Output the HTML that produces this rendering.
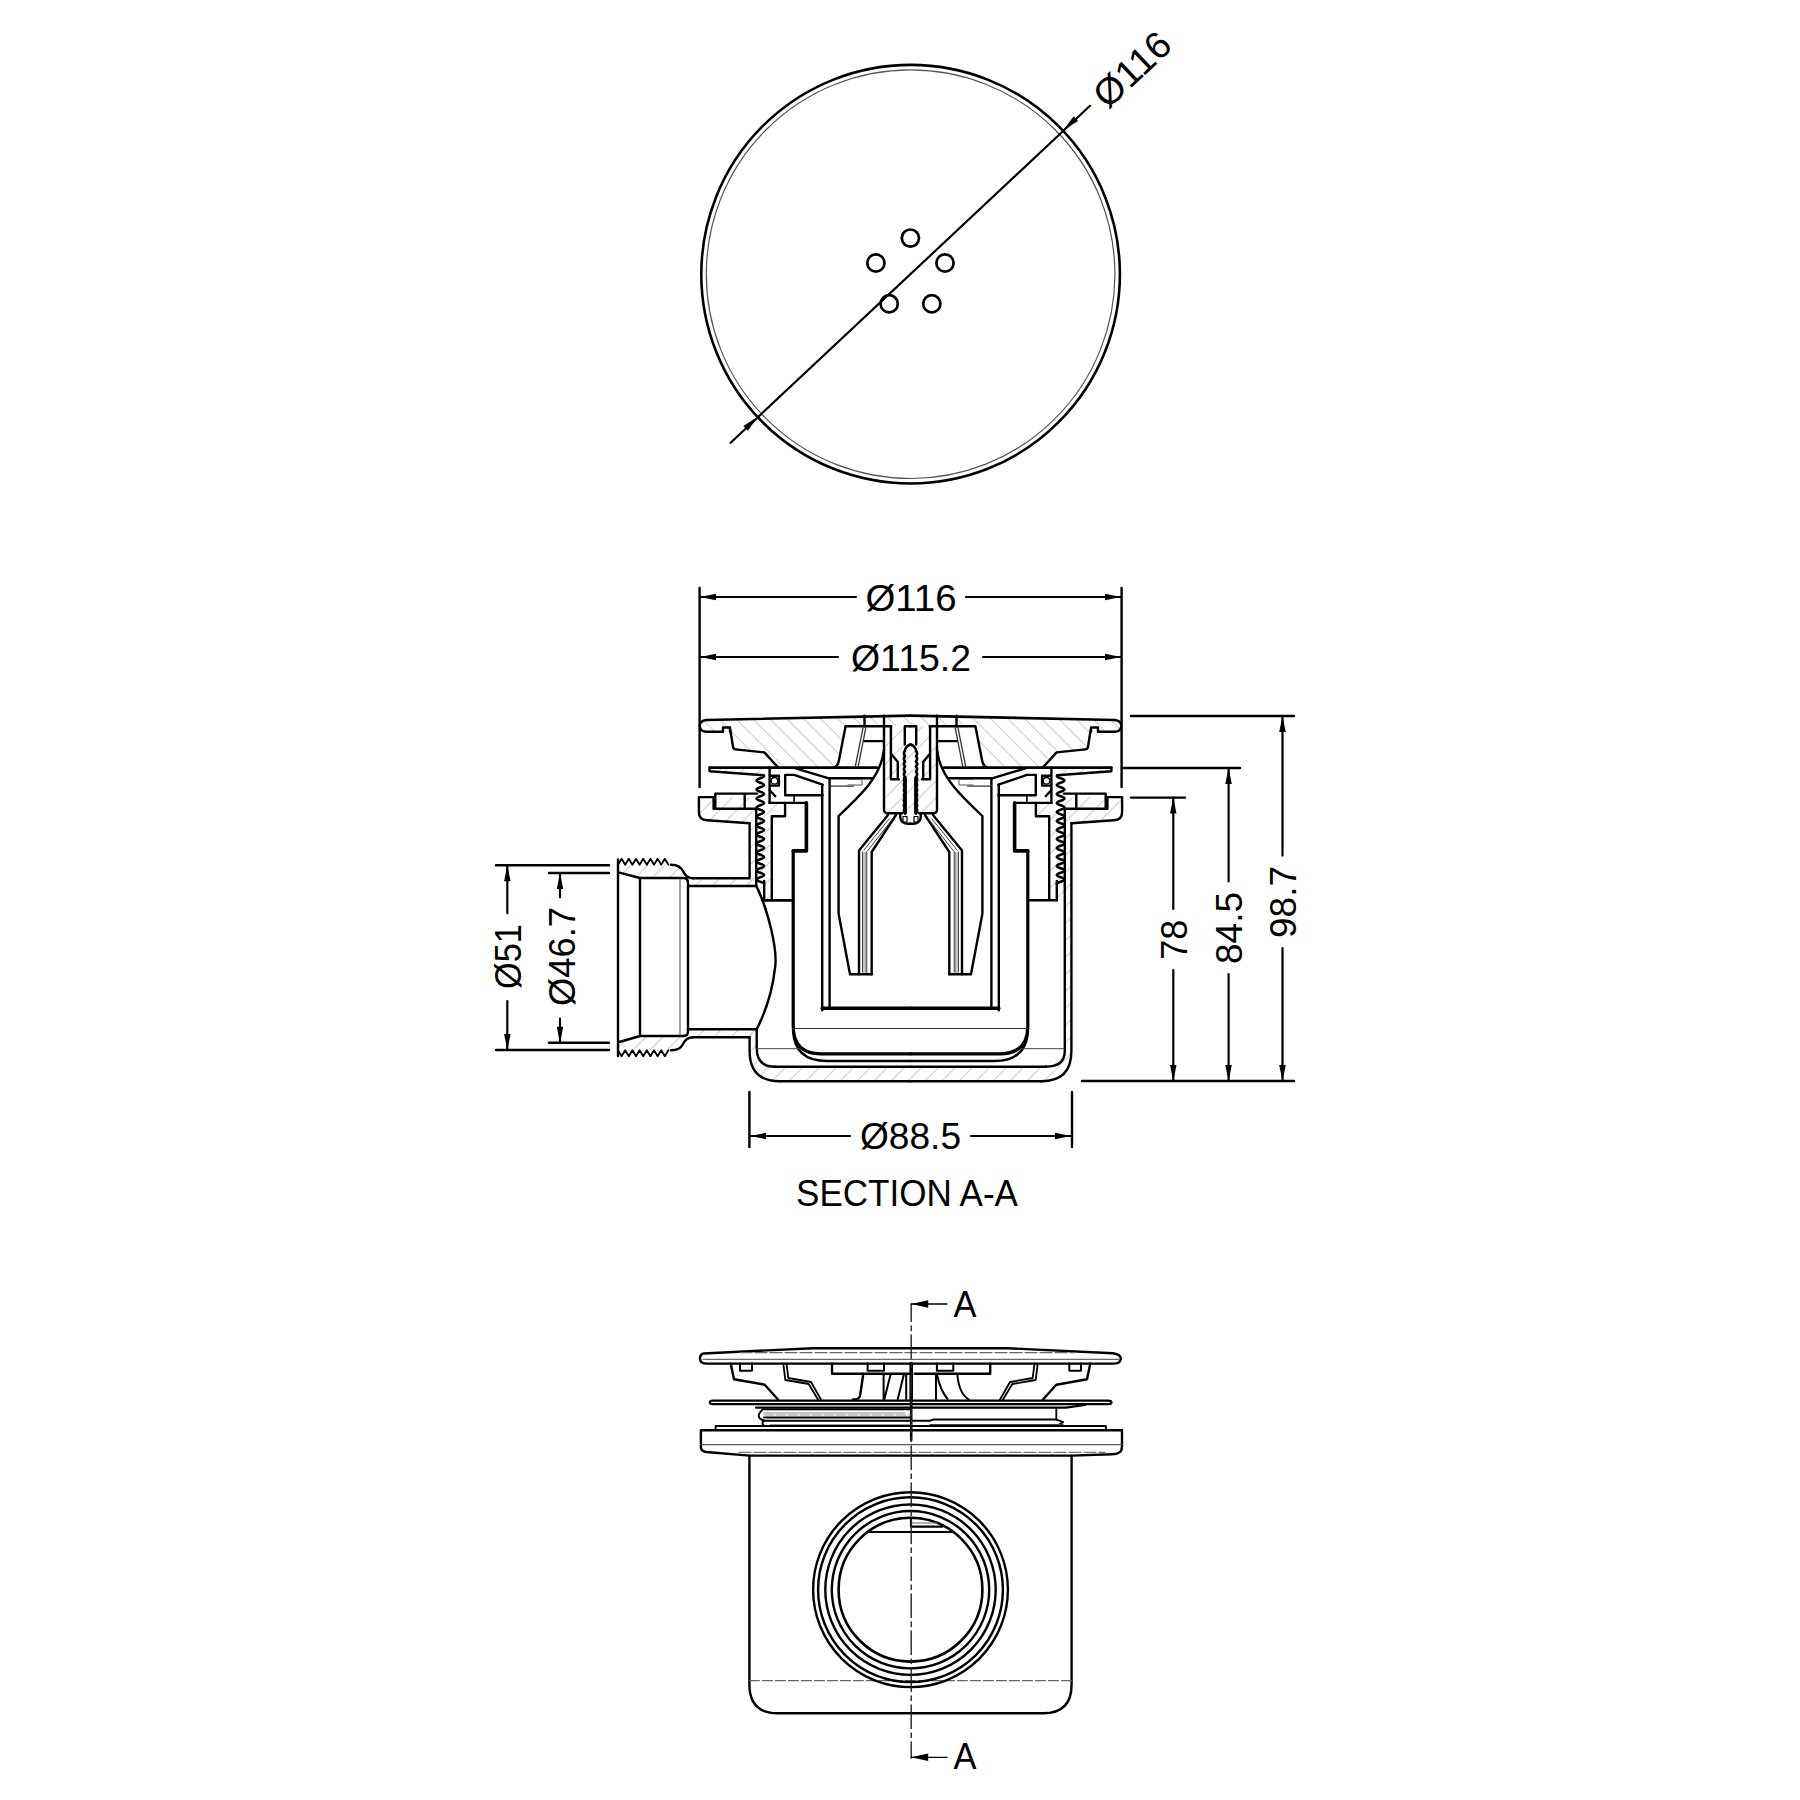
<!DOCTYPE html>
<html><head><meta charset="utf-8"><style>
html,body{margin:0;padding:0;background:#fff;overflow:hidden;width:1800px;height:1800px;}
svg{display:block;}
</style></head><body>
<svg width="1800" height="1800" viewBox="0 0 1800 1800" stroke-linecap="round" stroke-linejoin="round">
<rect width="1800" height="1800" fill="#fff"/>
<defs>
<pattern id="hF" patternUnits="userSpaceOnUse" width="17" height="17"><path d="M0,17 L17,0 M-3,3 L3,-3 M14,20 L20,14" stroke="#cfcfcf" stroke-width="1.1"/></pattern>
<pattern id="hB" patternUnits="userSpaceOnUse" width="17" height="17"><path d="M0,0 L17,17 M-3,14 L3,20 M14,-3 L20,3" stroke="#cfcfcf" stroke-width="1.1"/></pattern>
</defs>
<path d="M706.7,720 L864.5,716.3 L864.5,726.3 L845.6,726.3 L839,760 Q838,766 834.5,767.4 L778,767.4 L764.4,752.4 L737.8,749.6 Q733,749.5 732.2,746.7 L729.5,728.4 L723,731.8 L706.5,731.8 C702.5,731.8 700,730 699.8,726 C699.6,723.5 701,720.3 706.7,720 Z" fill="url(#hB)" stroke="none"/>
<path d="M1114.3,720 L956.5,716.3 L956.5,726.3 L975.4,726.3 L982.0,760 Q983.0,766 986.5,767.4 L1043.0,767.4 L1056.6,752.4 L1083.2,749.6 Q1088.0,749.5 1088.8,746.7 L1091.5,728.4 L1098.0,731.8 L1114.5,731.8 C1118.5,731.8 1121.0,730 1121.2,726 C1121.4,723.5 1120.0,720.3 1114.3,720 Z" fill="url(#hB)" stroke="none"/>
<path d="M864.5,716.3 L956.5,716.3 L956.5,726.3 L864.5,726.3 Z" fill="url(#hB)" stroke="none"/>
<path d="M890.9,726.3 L904.8,726.3 L904.8,813.3 L888,813.3 Q884,813.3 884,809.5 L884,741.1 L890.9,741.1 Z" fill="url(#hF)" stroke="none"/>
<path d="M930.1,726.3 L916.2,726.3 L916.2,813.3 L933.0,813.3 Q937.0,813.3 937.0,809.5 L937.0,741.1 L930.1,741.1 Z" fill="url(#hF)" stroke="none"/>
<path d="M905,746 L917,746 L917,813 L905,813 Z" fill="url(#hF)" stroke="none"/>
<path d="M699.4,797.3 L757,797.3 L757,808 L772.3,808 L772.3,900 L757,900 L757,822.6 L707.3,819.4 Q699.4,818 699.4,812 Z" fill="url(#hF)" stroke="none"/>
<path d="M1121.6,797.3 L1064.0,797.3 L1064.0,808 L1048.7,808 L1048.7,900 L1064.0,900 L1064.0,822.6 L1113.7,819.4 Q1121.6,818 1121.6,812 Z" fill="url(#hF)" stroke="none"/>
<path d="M769.6,802.9 L785.1,802.9 L785.1,816.2 L771.8,816.2 Z" fill="url(#hF)" stroke="none"/>
<path d="M1051.4,802.9 L1035.9,802.9 L1035.9,816.2 L1049.2,816.2 Z" fill="url(#hF)" stroke="none"/>
<path d="M709.6,767.6 L769.6,767.6 L769.6,775.3 L763.8,775.3 L709.6,771.3 Z" fill="url(#hF)" stroke="none"/>
<path d="M1111.4,767.6 L1051.4,767.6 L1051.4,775.3 L1057.2,775.3 L1111.4,771.3 Z" fill="url(#hF)" stroke="none"/>
<path d="M749.6,822.6 L757,822.6 L757,886 L749.6,886 Z" fill="url(#hF)" stroke="none"/>
<path d="M1064.8,822.6 L1071.4,822.6 L1071.4,1051 L1064.8,1051 Z" fill="url(#hF)" stroke="none"/>
<path d="M749.6,1037.2 L749.6,1051 Q749.6,1081.2 779.6,1081.2 L1041.4,1081.2 Q1071.4,1081.2 1071.4,1051 L1064.8,1051 Q1064.8,1066.6 1046,1066.6 L775,1066.8 Q756.7,1066.8 756.7,1048 L756.7,1029.2 Z" fill="url(#hF)" stroke="none"/>
<path d="M618,864.7 L671,864.7 Q680,864.7 683,871 Q686,878.3 693,878.3 L756.4,878.3 L756.4,886 L688,886 L688,883 Q688,878 683.5,878 L640,878 L619.3,872.7 Z" fill="url(#hF)" stroke="none"/>
<path d="M618,1050.3 L671,1050.3 Q680,1050.3 683,1044.0 Q686,1036.7 693,1036.7 L756.4,1036.7 L756.4,1029.0 L688,1029.0 L688,1032.0 Q688,1037.0 683.5,1037.0 L640,1037.0 L619.3,1042.3 Z" fill="url(#hF)" stroke="none"/>
<circle cx="910.6" cy="274.2" r="209.3" stroke="#000" stroke-width="2.6" fill="none"/>
<circle cx="910.6" cy="274.2" r="204.3" stroke="#555" stroke-width="1.2" fill="none"/>
<circle cx="910.4" cy="238.1" r="8.6" stroke="#000" stroke-width="2.7" fill="none"/>
<circle cx="875.9" cy="263.0" r="8.6" stroke="#000" stroke-width="2.7" fill="none"/>
<circle cx="945.0" cy="263.0" r="8.6" stroke="#000" stroke-width="2.7" fill="none"/>
<circle cx="889.2" cy="303.8" r="8.6" stroke="#000" stroke-width="2.7" fill="none"/>
<circle cx="931.8" cy="303.8" r="8.6" stroke="#000" stroke-width="2.7" fill="none"/>
<line x1="730.6" y1="442.8" x2="1090" y2="105.8" stroke="#000" stroke-width="2.2" />
<path d="M757.8,416.7 L747.8,430.8 L743.3,426.1 Z" fill="#000"/>
<path d="M1063.3,130.0 L1073.7,116.2 L1078.1,121.0 Z" fill="#000"/>
<text x="1140.9" y="78.9" font-size="37.5" text-anchor="middle" transform="rotate(-43.15 1140.9 78.9)" textLength="91" lengthAdjust="spacingAndGlyphs" font-family="Liberation Sans, sans-serif" fill="#000" >Ø116</text>
<line x1="699.6" y1="588" x2="699.6" y2="787" stroke="#000" stroke-width="2.4" />
<line x1="1121.6" y1="588" x2="1121.6" y2="787" stroke="#000" stroke-width="2.4" />
<line x1="700" y1="597" x2="856" y2="597" stroke="#000" stroke-width="2.2" />
<line x1="966" y1="597" x2="1121" y2="597" stroke="#000" stroke-width="2.2" />
<path d="M700.0,597.0 L716.0,593.8 L716.0,600.2 Z" fill="#000"/>
<path d="M1121.0,597.0 L1105.0,600.2 L1105.0,593.8 Z" fill="#000"/>
<text x="911" y="611" font-size="37.5" text-anchor="middle" textLength="91" lengthAdjust="spacingAndGlyphs" font-family="Liberation Sans, sans-serif" fill="#000" >Ø116</text>
<line x1="700" y1="657" x2="838" y2="657" stroke="#000" stroke-width="2.2" />
<line x1="983" y1="657" x2="1121" y2="657" stroke="#000" stroke-width="2.2" />
<path d="M700.0,657.0 L716.0,653.8 L716.0,660.2 Z" fill="#000"/>
<path d="M1121.0,657.0 L1105.0,660.2 L1105.0,653.8 Z" fill="#000"/>
<text x="911" y="671" font-size="37.5" text-anchor="middle" textLength="120" lengthAdjust="spacingAndGlyphs" font-family="Liberation Sans, sans-serif" fill="#000" >Ø115.2</text>
<line x1="1131" y1="716" x2="1294" y2="716" stroke="#000" stroke-width="2.4" />
<line x1="1122" y1="768" x2="1240" y2="768" stroke="#000" stroke-width="2.4" />
<line x1="1131" y1="797.6" x2="1185" y2="797.6" stroke="#000" stroke-width="2.4" />
<line x1="1082" y1="1081" x2="1294" y2="1081" stroke="#000" stroke-width="2.4" />
<line x1="1173.3" y1="797.6" x2="1173.3" y2="909" stroke="#000" stroke-width="2.2" />
<line x1="1173.3" y1="970" x2="1173.3" y2="1081" stroke="#000" stroke-width="2.2" />
<path d="M1173.3,797.6 L1176.5,813.6 L1170.0,813.6 Z" fill="#000"/>
<path d="M1173.3,1081.0 L1170.0,1065.0 L1176.5,1065.0 Z" fill="#000"/>
<text x="1187" y="939.8" font-size="37.5" text-anchor="middle" transform="rotate(-90 1187 939.8)" textLength="40" lengthAdjust="spacingAndGlyphs" font-family="Liberation Sans, sans-serif" fill="#000" >78</text>
<line x1="1228.6" y1="768" x2="1228.6" y2="881.5" stroke="#000" stroke-width="2.2" />
<line x1="1228.6" y1="974" x2="1228.6" y2="1081" stroke="#000" stroke-width="2.2" />
<path d="M1228.6,768.0 L1231.8,784.0 L1225.3,784.0 Z" fill="#000"/>
<path d="M1228.6,1081.0 L1225.3,1065.0 L1231.8,1065.0 Z" fill="#000"/>
<text x="1242.4" y="928" font-size="37.5" text-anchor="middle" transform="rotate(-90 1242.4 928)" textLength="72" lengthAdjust="spacingAndGlyphs" font-family="Liberation Sans, sans-serif" fill="#000" >84.5</text>
<line x1="1282.5" y1="716" x2="1282.5" y2="855.6" stroke="#000" stroke-width="2.2" />
<line x1="1282.5" y1="948" x2="1282.5" y2="1081" stroke="#000" stroke-width="2.2" />
<path d="M1282.5,716.0 L1285.8,732.0 L1279.2,732.0 Z" fill="#000"/>
<path d="M1282.5,1081.0 L1279.2,1065.0 L1285.8,1065.0 Z" fill="#000"/>
<text x="1296.2" y="902" font-size="37.5" text-anchor="middle" transform="rotate(-90 1296.2 902)" textLength="72" lengthAdjust="spacingAndGlyphs" font-family="Liberation Sans, sans-serif" fill="#000" >98.7</text>
<line x1="496" y1="865.3" x2="609" y2="865.3" stroke="#000" stroke-width="2.4" />
<line x1="496" y1="1050" x2="609" y2="1050" stroke="#000" stroke-width="2.4" />
<line x1="549" y1="873" x2="609" y2="873" stroke="#000" stroke-width="2.4" />
<line x1="549" y1="1042.7" x2="609" y2="1042.7" stroke="#000" stroke-width="2.4" />
<line x1="507.3" y1="865.3" x2="507.3" y2="913.3" stroke="#000" stroke-width="2.2" />
<line x1="507.3" y1="1001" x2="507.3" y2="1050" stroke="#000" stroke-width="2.2" />
<path d="M507.3,865.3 L510.6,881.3 L504.1,881.3 Z" fill="#000"/>
<path d="M507.3,1050.0 L504.1,1034.0 L510.6,1034.0 Z" fill="#000"/>
<text x="521.3" y="956.5" font-size="37.5" text-anchor="middle" transform="rotate(-90 521.3 956.5)" textLength="65" lengthAdjust="spacingAndGlyphs" font-family="Liberation Sans, sans-serif" fill="#000" >Ø51</text>
<line x1="560" y1="873" x2="560" y2="897.3" stroke="#000" stroke-width="2.2" />
<line x1="560" y1="1018.7" x2="560" y2="1042.7" stroke="#000" stroke-width="2.2" />
<path d="M560.0,873.0 L563.2,889.0 L556.8,889.0 Z" fill="#000"/>
<path d="M560.0,1042.7 L556.8,1026.7 L563.2,1026.7 Z" fill="#000"/>
<text x="574.7" y="956.5" font-size="37.5" text-anchor="middle" transform="rotate(-90 574.7 956.5)" textLength="99" lengthAdjust="spacingAndGlyphs" font-family="Liberation Sans, sans-serif" fill="#000" >Ø46.7</text>
<line x1="749.4" y1="1092" x2="749.4" y2="1147" stroke="#000" stroke-width="2.4" />
<line x1="1072" y1="1092" x2="1072" y2="1147" stroke="#000" stroke-width="2.4" />
<line x1="750" y1="1136" x2="850" y2="1136" stroke="#000" stroke-width="2.2" />
<line x1="971" y1="1136" x2="1071" y2="1136" stroke="#000" stroke-width="2.2" />
<path d="M750.0,1136.0 L766.0,1132.8 L766.0,1139.2 Z" fill="#000"/>
<path d="M1071.0,1136.0 L1055.0,1139.2 L1055.0,1132.8 Z" fill="#000"/>
<text x="910.5" y="1149" font-size="37.5" text-anchor="middle" textLength="101" lengthAdjust="spacingAndGlyphs" font-family="Liberation Sans, sans-serif" fill="#000" >Ø88.5</text>
<text x="907" y="1206" font-size="37.5" text-anchor="middle" textLength="222" lengthAdjust="spacingAndGlyphs" font-family="Liberation Sans, sans-serif" fill="#000" >SECTION A-A</text>
<g id="symL">
<path d="M706.7,720 L910.5,715.6" stroke="#000" stroke-width="2.6" fill="none" />
<path d="M706.7,720 C701,720.3 699.6,723.5 699.8,726 C700,730 702.5,731.8 706.5,731.8 L723,731.8 L723,727.5 L730,727.5 L730,731.8 M730,728 L733,746.7 Q733,749.5 737.8,749.6 L764.4,752.4 L778,767.4" stroke="#000" stroke-width="2.4" fill="none" />
<line x1="709.6" y1="767.6" x2="877" y2="767.6" stroke="#000" stroke-width="2.6" />
<path d="M834.5,767.4 Q838,766 839,760 L845.6,726.3 L891.3,726.3" stroke="#000" stroke-width="2.4" fill="none" />
<path d="M855.3,766.5 L863,727.8 M858.2,766.5 L865.8,727.8" stroke="#333" stroke-width="1.3" fill="none" />
<line x1="864.5" y1="715.6" x2="864.5" y2="726.3" stroke="#000" stroke-width="2.4" />
<line x1="864.5" y1="741.1" x2="884" y2="741.1" stroke="#000" stroke-width="2.4" />
<path d="M884,715.6 L884,809.5 Q884,813.3 888,813.3 L902,813.3" stroke="#000" stroke-width="2.4" fill="none" />
<path d="M890.9,726.3 L890.9,779.3 L898.9,779.3 M890.9,753.6 L897.8,762 L897.8,779.3" stroke="#000" stroke-width="2.4" fill="none" />
<path d="M904.8,744.6 L904.8,726.3 L910.5,726.3" stroke="#000" stroke-width="2.4" fill="none" />
<path d="M905,813.3 Q902.8,810.7 905,808.1 Q902.8,805.5 905,802.9 Q902.8,800.3 905,797.7 Q902.8,795.1 905,792.5 Q902.8,789.9 905,787.3 Q902.8,784.7 905,782.1 Q902.8,779.5 905,776.9 Q902.8,774.3 905,771.7 Q902.8,769.1 905,766.5 Q902.8,763.9 905,761.3 Q902.8,758.7 905,756.1 Q902.8,753.5 905,750.9 Q904,750 907,746.5 Q909,744.6 910.5,744.6" stroke="#000" stroke-width="2.6" fill="none" />
<path d="M905.2,778 L905.2,813" stroke="#000" stroke-width="3.4" fill="none" />
<path d="M900.3,813.3 L900.3,818 Q901.5,823.8 908,823.8 L910.5,823.8" stroke="#000" stroke-width="2.4" fill="none" />
<path d="M903,816.5 L907,816.5 L907,822 L903,822 Z" stroke="#000" stroke-width="1.2" fill="none" />
<path d="M884,750 C881,776 862,794 838.6,816 L838.6,913.7 L850,974.3 L871.7,974.3" stroke="#000" stroke-width="2.4" fill="none" />
<path d="M888,815 L859,850.5 L859,974.3 M896,815 L871.7,852 L871.7,974.3" stroke="#000" stroke-width="2.4" fill="none" />
<path d="M863,852 L868,852 L868,973 L863,973 Z" fill="#c8c8c8"/>
<path d="M862.5,852 L862.5,972 M866.2,852 L866.2,972 M889,819 L864,850 M892.5,819 L867.5,851" stroke="#444" stroke-width="1.0" fill="none" />
<path d="M795.6,768.4 L828.9,778.3 L872,778.3" stroke="#000" stroke-width="2.4" fill="none" />
<path d="M829.6,778.3 L829.6,1008" stroke="#000" stroke-width="2.4" fill="none" />
<path d="M822.6,784.7 L794.1,774.9 L785.2,774.9 L785.2,795.3 L822.6,795.3" stroke="#000" stroke-width="2.4" fill="none" />
<path d="M822.2,784.7 L822.2,1010.2" stroke="#000" stroke-width="2.4" fill="none" />
<line x1="822.2" y1="1008.3" x2="910.5" y2="1008.3" stroke="#000" stroke-width="3.4" />
<path d="M829.6,786.2 L853.3,786.2" stroke="#333" stroke-width="1.2" fill="none" />
<path d="M848,779.5 L862,779.5 L862,785 L848,785" stroke="#555" stroke-width="1.0" fill="none" />
<path d="M770,775.8 L778.9,775.8 L778.9,785.6 L770,785.6" stroke="#000" stroke-width="2.4" fill="none" />
<circle cx="774.5" cy="780.8" r="3.3" stroke="#000" stroke-width="1.3" fill="none"/>
<path d="M769.6,767.6 L769.6,802.9" stroke="#000" stroke-width="2.4" fill="none" />
<path d="M769.6,790 L775.3,796.2" stroke="#000" stroke-width="2.4" fill="none" />
<path d="M794.1,796 L794.1,802.9" stroke="#000" stroke-width="1.6" fill="none" />
<path d="M769.6,802.9 L806.4,802.9" stroke="#000" stroke-width="2.4" fill="none" />
<path d="M806.4,802.9 L806.4,850.9 L793.2,850.9" stroke="#000" stroke-width="3.6" fill="none" />
<path d="M785.1,802.9 L785.1,816.2 L771.8,816.2 L771.8,900.2 L764.2,900.2 M771.8,900.2 L793.2,900.2" stroke="#000" stroke-width="2.4" fill="none" />
<path d="M709.6,767.6 L709.6,771.3 L763.8,775.3" stroke="#000" stroke-width="2.4" fill="none" />
<path d="M764.2,776 C764.2,778.0 756.5,778.5 756.5,780.5 C756.5,782.5 764.2,783.0 764.2,785.0 C764.2,787.0 756.5,787.5 756.5,789.5 C756.5,791.5 764.2,792.0 764.2,794.0 C764.2,796.0 756.5,796.5 756.5,798.5 C756.5,800.5 764.2,801.0 764.2,803.0 C764.2,805.0 756.5,805.5 756.5,807.5 C756.5,809.5 764.2,810.0 764.2,812.0 C764.2,814.0 756.5,814.5 756.5,816.5 C756.5,818.5 764.2,819.0 764.2,821.0 C764.2,823.0 756.5,823.5 756.5,825.5 C756.5,827.5 764.2,828.0 764.2,830.0 C764.2,832.0 756.5,832.5 756.5,834.5 C756.5,836.5 764.2,837.0 764.2,839.0 C764.2,841.0 756.5,841.5 756.5,843.5 C756.5,845.5 764.2,846.0 764.2,848.0 C764.2,850.0 756.5,850.5 756.5,852.5 C756.5,854.5 764.2,855.0 764.2,857.0 C764.2,859.0 756.5,859.5 756.5,861.5 C756.5,863.5 764.2,864.0 764.2,866.0 C764.2,868.0 756.5,868.5 756.5,870.5 C756.5,872.5 764.2,873.0 764.2,875.0 C764.2,877.0 756.5,877.5 756.5,879.5 C756.5,881.5 764.2,882.0 764.2,884.0" stroke="#000" stroke-width="2.5" fill="none" />
<path d="M764.2,881 L764.2,900.2" stroke="#000" stroke-width="2.4" fill="none" />
<path d="M756.2,808.7 L756.2,886" stroke="#000" stroke-width="2.4" fill="none" />
<path d="M713.6,797.1 L698.9,797.1 L698.9,812 Q698.9,820.2 707,820.2 L749.6,823.3" stroke="#000" stroke-width="2.4" fill="none" />
<path d="M713.6,797.1 L713.6,808.7 L756.2,808.7" stroke="#000" stroke-width="2.4" fill="none" />
<path d="M715.3,808.7 L715.3,793.6 L757,793.6 M744.7,793.6 L744.7,808.7" stroke="#000" stroke-width="2.4" fill="none" />
<path d="M793.2,850.9 L793.2,1026 Q793.2,1053.8 821,1053.8 L910.5,1053.8" stroke="#000" stroke-width="3.2" fill="none" />
<path d="M793.2,1030 Q794,1061 827,1061 L910.5,1061" stroke="#000" stroke-width="2.4" fill="none" />
<path d="M793.2,1028.5 L910.5,1028.5" stroke="#333" stroke-width="1.0" fill="none" />
<path d="M779.6,1081.2 L910.5,1081.2" stroke="#000" stroke-width="2.4" fill="none" />
<path d="M775,1066.8 L910.5,1066.8" stroke="#000" stroke-width="2.4" fill="none" />
</g>
<use href="#symL" transform="translate(1821,0) scale(-1,1)"/>
<path d="M749.6,823.3 L749.6,878.3 L693,878.3" stroke="#000" stroke-width="2.4" fill="none" />
<path d="M749.6,1037.2 L749.6,1051 Q749.6,1081.2 779.6,1081.2" stroke="#000" stroke-width="2.4" fill="none" />
<path d="M756.2,886 L688,886" stroke="#000" stroke-width="2.4" fill="none" />
<path d="M756.7,1029.2 L756.7,1048 Q756.7,1066.8 775,1066.8" stroke="#000" stroke-width="2.4" fill="none" />
<path d="M688,1029.2 L756.7,1029.2" stroke="#000" stroke-width="2.4" fill="none" />
<path d="M693,1037.2 L749.6,1037.2" stroke="#000" stroke-width="2.4" fill="none" />
<path d="M756.4,886 C768,910 778,950 775,968 C772,995 764,1015 756.7,1029.2" stroke="#000" stroke-width="2.4" fill="none" />
<path d="M762.2,900.2 L793.2,900.2" stroke="#000" stroke-width="2.4" fill="none" />
<path d="M756.4,886 L766.4,910" stroke="#000" stroke-width="1.4" fill="none" />
<line x1="757" y1="1048.7" x2="800" y2="1048.7" stroke="#444" stroke-width="1.0" />
<path d="M693,878.3 Q686,878.3 683,871 Q680,864.7 671,864.7" stroke="#000" stroke-width="2.4" fill="none" />
<path d="M693,1037.2 Q686,1037.2 683,1044 Q680,1050.3 671,1050.3" stroke="#000" stroke-width="2.4" fill="none" />
<path d="M618,859.5 L618,1056" stroke="#000" stroke-width="2.4" fill="none" />
<path d="M618,864.7 L621.6,858.8 L625.2,864.7 L628.8,858.8 L632.4,864.7 L636.0,858.8 L639.6,864.7 L643.2,858.8 L646.8,864.7 L650.4,858.8 L654.0,864.7 L657.6,858.8 L661.2,864.7 L664.8,858.8 L668.4,864.7" stroke="#000" stroke-width="1.8" fill="none" />
<path d="M618,1050.3 L621.6,1056.3 L625.2,1050.3 L628.8,1056.3 L632.4,1050.3 L636.0,1056.3 L639.6,1050.3 L643.2,1056.3 L646.8,1050.3 L650.4,1056.3 L654.0,1050.3 L657.6,1056.3 L661.2,1050.3 L664.8,1056.3 L668.4,1050.3" stroke="#000" stroke-width="1.8" fill="none" />
<path d="M619.3,872.7 L640,878 L683.5,878 Q688,878 688,883 L688,1031.5 Q688,1036 683.5,1036 L640,1036 L619.3,1042" stroke="#000" stroke-width="2.4" fill="none" />
<path d="M640,878 L640,1036" stroke="#000" stroke-width="2.4" fill="none" />
<path d="M680,878 L680,1036" stroke="#444" stroke-width="1.0" fill="none" />
<path d="M1071.4,823.3 L1071.4,1051 Q1071.4,1081.2 1041.4,1081.2" stroke="#000" stroke-width="2.4" fill="none" />
<path d="M1064.8,886 L1064.8,1051 Q1064.8,1066.6 1046,1066.6" stroke="#000" stroke-width="2.4" fill="none" />
<line x1="1021" y1="1048.7" x2="1064" y2="1048.7" stroke="#444" stroke-width="1.0" />
<path d="M703.5,1353.5 L813,1348.2 L1007.5,1348.2 L1113,1353.2 Q1121,1354.5 1120.8,1358.8 Q1120.6,1363.6 1114,1363.6 L707,1363.6 Q700,1363.6 700,1358.8 Q700,1354 703.5,1353.5 Z" stroke="#000" stroke-width="2.4" fill="none" />
<line x1="740" y1="1352.6" x2="1075" y2="1352.6" stroke="#666" stroke-width="1.3" stroke-dasharray="12,3"/>
<line x1="703" y1="1359.3" x2="1119" y2="1359.3" stroke="#444" stroke-width="1.0" />
<path d="M740,1363.6 L740,1370.8 L752,1370.8 L752,1363.6" stroke="#000" stroke-width="2.0" fill="none" />
<path d="M867.6,1363.6 L867.6,1370.8 L884,1370.8 L884,1363.6" stroke="#000" stroke-width="2.0" fill="none" />
<path d="M936.9,1363.6 L936.9,1370.8 L953.3,1370.8 L953.3,1363.6" stroke="#000" stroke-width="2.0" fill="none" />
<path d="M1069.3,1363.6 L1069.3,1370.8 L1081,1370.8 L1081,1363.6" stroke="#000" stroke-width="2.0" fill="none" />
<path d="M832,1363.6 L832,1373.8 L909.3,1373.8 M914.7,1373.8 L990.2,1373.8 L990.2,1363.6" stroke="#000" stroke-width="2.4" fill="none" />
<path d="M730.7,1363.6 L734,1379.3 L764.7,1384.7 L778,1399.5" stroke="#000" stroke-width="2.4" fill="none" />
<path d="M1090.3,1363.6 L1087,1379.3 L1056.3,1384.7 L1043,1399.5" stroke="#000" stroke-width="2.4" fill="none" />
<path d="M783.3,1363.6 L785.3,1380 L808.7,1384 L818,1399.5 M786.5,1363.6 L788.3,1378 L811,1382 L821,1399.5" stroke="#000" stroke-width="1.8" fill="none" />
<path d="M1037.7,1363.6 L1035.7,1380 L1012.3,1384 L1003,1399.5 M1034.5,1363.6 L1032.7,1378 L1010,1382 L1000,1399.5" stroke="#000" stroke-width="1.8" fill="none" />
<path d="M863.3,1374 L860,1396 Q859,1399.5 853,1399.5" stroke="#000" stroke-width="2.4" fill="none" />
<path d="M890.7,1374 L884.4,1399 M883.6,1374 L883.6,1399 M904,1374 L897.8,1399 M906.2,1374 L906.2,1399" stroke="#000" stroke-width="2.0" fill="none" />
<path d="M936,1374 L936,1399 M936.9,1374 Q940,1390 947.6,1399 M957.3,1374 Q959,1394 968.9,1399.5" stroke="#000" stroke-width="2.0" fill="none" />
<line x1="911.2" y1="1363.6" x2="911.2" y2="1400" stroke="#000" stroke-width="3.6" />
<line x1="911.2" y1="1400" x2="911.2" y2="1440" stroke="#000" stroke-width="2.6" />
<path d="M713,1400.7 L1108,1400.7 Q1111.5,1400.9 1111.5,1402.5 Q1111.5,1404.2 1108,1404.2 L713,1404.2 Q709.8,1404.1 709.8,1402.5 Q709.8,1400.9 713,1400.7 Z" stroke="#000" stroke-width="2.2" fill="none" />
<path d="M756,1407.6 L1066,1407.6 L1085,1405" stroke="#000" stroke-width="2.2" fill="none" />
<path d="M1056.3,1407.6 L1056.3,1419.6" stroke="#000" stroke-width="1.8" fill="none" />
<path d="M764,1408.5 Q759,1412 758.7,1415.8 Q759,1419 764,1420.5 Q761,1423 764,1426" stroke="#000" stroke-width="2.0" fill="none" />
<line x1="764" y1="1409.3" x2="911" y2="1409.3" stroke="#000" stroke-width="1.8" />
<line x1="764" y1="1413" x2="905" y2="1413" stroke="#888" stroke-width="1.1" />
<line x1="764" y1="1415" x2="911" y2="1415" stroke="#999" stroke-width="1.1" stroke-dasharray="10,2"/>
<line x1="764" y1="1417.6" x2="911" y2="1417.6" stroke="#000" stroke-width="2.0" />
<path d="M764,1420.7 L930,1420.7 L933,1419.6 L1056.3,1419.6 Q1060,1420.5 1063,1422.2 L1059.2,1424.5" stroke="#000" stroke-width="2.0" fill="none" />
<line x1="770" y1="1424.8" x2="911" y2="1424.8" stroke="#777" stroke-width="1.2" />
<line x1="930" y1="1424.6" x2="1063" y2="1424.6" stroke="#444" stroke-width="1.4" />
<path d="M715.6,1429 L715.6,1426 L1105.9,1426 L1105.9,1429" stroke="#000" stroke-width="1.9" fill="none" />
<path d="M700.9,1430.2 L1122,1430.2 L1122,1446.7 Q1122,1454.3 1112,1454.3 L1071.4,1455.6 L749.8,1455.6 L709,1452.2 Q700.9,1452.2 700.9,1446.9 Z" stroke="#000" stroke-width="2.4" fill="none" />
<line x1="701" y1="1444.6" x2="1122" y2="1444.6" stroke="#555" stroke-width="1.4" />
<line x1="739" y1="1452.3" x2="1105" y2="1452.3" stroke="#777" stroke-width="1.2" stroke-dasharray="12,3"/>
<path d="M749.4,1455.6 L749.4,1684.5 Q749.4,1713.3 777.8,1713.3 L1043.2,1713.3 Q1071.6,1713.3 1071.6,1684.5 L1071.6,1455.6" stroke="#000" stroke-width="2.4" fill="none" />
<line x1="749.4" y1="1680.6" x2="1071.6" y2="1680.6" stroke="#666" stroke-width="1.2" stroke-dasharray="10,3"/>
<circle cx="910.5" cy="1589.7" r="97.4" stroke="#000" stroke-width="2.4" fill="none"/>
<circle cx="910.5" cy="1589.7" r="92.4" stroke="#000" stroke-width="2.4" fill="none"/>
<circle cx="910.5" cy="1589.7" r="85.2" stroke="#000" stroke-width="2.4" fill="none"/>
<circle cx="910.5" cy="1589.7" r="78.7" stroke="#000" stroke-width="2.4" fill="none"/>
<circle cx="910.5" cy="1589.7" r="71.9" stroke="#000" stroke-width="2.6" fill="none"/>
<line x1="868" y1="1532" x2="953" y2="1532" stroke="#000" stroke-width="2.2" />
<path d="M911,1518.6 L911,1526.6 L942.5,1526.6" stroke="#000" stroke-width="2.2" fill="none" />
<line x1="912" y1="1523" x2="937" y2="1523" stroke="#666" stroke-width="1.2" />
<line x1="911.2" y1="1304" x2="911.2" y2="1758" stroke="#222" stroke-width="1.4" stroke-dasharray="23.5,4.5,4.5,4.5" stroke-dashoffset="6"/>
<line x1="911.2" y1="1304" x2="947" y2="1304" stroke="#000" stroke-width="1.3" />
<line x1="911.2" y1="1757.3" x2="947" y2="1757.3" stroke="#000" stroke-width="1.3" />
<path d="M911.2,1304.0 L928.2,1300.2 L928.2,1307.8 Z" fill="#000"/>
<path d="M911.2,1757.3 L928.2,1753.5 L928.2,1761.0 Z" fill="#000"/>
<text x="965" y="1316.7" font-size="37.5" text-anchor="middle" textLength="23" lengthAdjust="spacingAndGlyphs" font-family="Liberation Sans, sans-serif" fill="#000" >A</text>
<text x="965" y="1769" font-size="37.5" text-anchor="middle" textLength="23" lengthAdjust="spacingAndGlyphs" font-family="Liberation Sans, sans-serif" fill="#000" >A</text>
</svg></body></html>
